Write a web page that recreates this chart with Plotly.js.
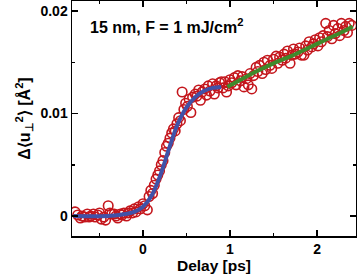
<!DOCTYPE html>
<html><head><meta charset="utf-8">
<script src="https://cdn.plot.ly/plotly-3.0.1.min.js"></script>
<style>html,body{margin:0;padding:0;background:#fff}</style>
</head><body><div id="chart" style="width:357px;height:275px"></div>
<script>
const delay = [-0.78,-0.75,-0.72,-0.70,-0.67,-0.64,-0.62,-0.60,-0.57,-0.55,-0.52,-0.50,-0.48,-0.45,-0.43,-0.40,-0.38,-0.36,-0.33,-0.31,-0.29,-0.26,-0.24,-0.22,-0.19,-0.17,-0.15,-0.12,-0.10,-0.08,-0.05,-0.03,0.00,0.02,0.05,0.07,0.09,0.11,0.13,0.15,0.17,0.19,0.21,0.23,0.25,0.27,0.29,0.31,0.33,0.35,0.37,0.39,0.41,0.43,0.45,0.47,0.49,0.51,0.53,0.55,0.57,0.60,0.62,0.64,0.66,0.68,0.71,0.73,0.75,0.77,0.80,0.82,0.84,0.86,0.88,0.90,0.92,0.94,0.96,0.98,1.00,1.02,1.05,1.07,1.09,1.12,1.14,1.16,1.19,1.21,1.23,1.25,1.27,1.30,1.32,1.34,1.37,1.39,1.41,1.43,1.46,1.48,1.50,1.53,1.55,1.57,1.60,1.62,1.64,1.66,1.69,1.71,1.73,1.75,1.78,1.80,1.82,1.85,1.87,1.89,1.91,1.94,1.96,1.98,2.01,2.03,2.05,2.07,2.10,2.12,2.14,2.17,2.19,2.21,2.24,2.26,2.28,2.31,2.33,2.35,2.37,2.40];
const msd = [0.0004,0.0001,-0.0002,0.0000,-0.0001,0.0002,-0.0001,0.0000,0.0002,-0.0001,0.0001,0.0003,-0.0003,-0.0001,-0.0004,0.0010,0.0003,0.0002,0.0002,0.0000,-0.0002,0.0002,0.0001,0.0003,0.0000,0.0003,0.0005,0.0003,0.0007,0.0004,0.0009,0.0007,0.0012,0.0010,0.0006,0.0019,0.0025,0.0022,0.0030,0.0036,0.0040,0.0044,0.0050,0.0054,0.0062,0.0068,0.0071,0.0076,0.0081,0.0085,0.0083,0.0090,0.0096,0.0093,0.0121,0.0104,0.0110,0.0107,0.0114,0.0101,0.0116,0.0119,0.0117,0.0123,0.0113,0.0121,0.0124,0.0118,0.0127,0.0122,0.0129,0.0119,0.0127,0.0125,0.0130,0.0131,0.0125,0.0131,0.0121,0.0127,0.0133,0.0130,0.0135,0.0128,0.0137,0.0132,0.0136,0.0126,0.0134,0.0128,0.0139,0.0124,0.0137,0.0145,0.0141,0.0147,0.0139,0.0150,0.0143,0.0152,0.0147,0.0144,0.0153,0.0156,0.0149,0.0155,0.0152,0.0158,0.0154,0.0161,0.0149,0.0157,0.0163,0.0158,0.0160,0.0164,0.0157,0.0157,0.0166,0.0162,0.0170,0.0165,0.0168,0.0172,0.0166,0.0174,0.0170,0.0176,0.0188,0.0175,0.0181,0.0173,0.0186,0.0178,0.0183,0.0176,0.0188,0.0181,0.0185,0.0179,0.0188,0.0186];
const fit1X = [-0.80,-0.40,-0.20,-0.10,0.00,0.10,0.20,0.30,0.40,0.50,0.60,0.70,0.80,0.90];
const fit1Y = [0.0000,0.0000,0.0002,0.0004,0.0009,0.0020,0.0040,0.0066,0.0090,0.0106,0.0116,0.0122,0.0125,0.0126];
const fit2X = [0.97,1.10,1.30,1.50,1.70,1.90,2.10,2.30,2.41];
const fit2Y = [0.0126,0.0132,0.0141,0.0149,0.0156,0.0164,0.0172,0.0180,0.0185];
const xTicks = [0,1,2];
const xTickText = ['0','1','2'];
const yTicks = [0,0.01,0.02];
const yTickText = ['0','0.01','0.02'];

const F = 'Liberation Sans, Arial, sans-serif';
const data = [
  {x: delay, y: msd, type:'scatter', mode:'markers',
   marker:{symbol:'circle-open', size:9.5, color:'#c4161c', line:{width:1.6, color:'#c4161c'}}},
  {x: fit1X, y: fit1Y, type:'scatter', mode:'lines', line:{color:'#4052a8', width:4, shape:'spline'}},
  {x: fit2X, y: fit2Y, type:'scatter', mode:'lines', line:{color:'#3f8a2c', width:4, shape:'spline'}}
];
const axisCommon = {showgrid:false, zeroline:false, showline:true, linecolor:'#000', linewidth:1.5,
  mirror:'ticks', ticks:'inside', ticklen:6, tickwidth:1.5, tickcolor:'#000',
  tickfont:{family:F, size:14, color:'#000', weight:'bold'}};
const layout = {
  width:357, height:275, margin:{l:72, r:1, t:1, b:39},
  paper_bgcolor:'#fff', plot_bgcolor:'#fff', showlegend:false,
  xaxis: Object.assign({}, axisCommon, {range:[-0.816,2.448], tickvals:xTicks, ticktext:xTickText,
    minor:{dtick:0.5, tick0:0, ticks:'inside', ticklen:3, tickwidth:1.5, tickcolor:'#000'},
    title:{text:'Delay [ps]', font:{family:F, size:15.5, color:'#000', weight:'bold'}, standoff:3}}),
  yaxis: Object.assign({}, axisCommon, {range:[-0.00195,0.02098], tickvals:yTicks, ticktext:yTickText,
    minor:{dtick:0.005, tick0:0, ticks:'inside', ticklen:3, tickwidth:1.5, tickcolor:'#000'},
    title:{text:'Δ⟨u<sub>⊥</sub><sup>2</sup>⟩ [Å<sup>2</sup>]', font:{family:F, size:16, color:'#000', weight:'bold'}, standoff:6}}),
  annotations:[{xref:'paper', yref:'paper', x:0.058, y:0.895, xanchor:'left', yanchor:'middle', showarrow:false,
    text:'15 nm, F = 1 mJ/cm<sup>2</sup>', font:{family:F, size:16, color:'#000', weight:'bold'}}]
};
Plotly.newPlot('chart', data, layout, {displayModeBar:false, staticPlot:true});
</script></body></html>
